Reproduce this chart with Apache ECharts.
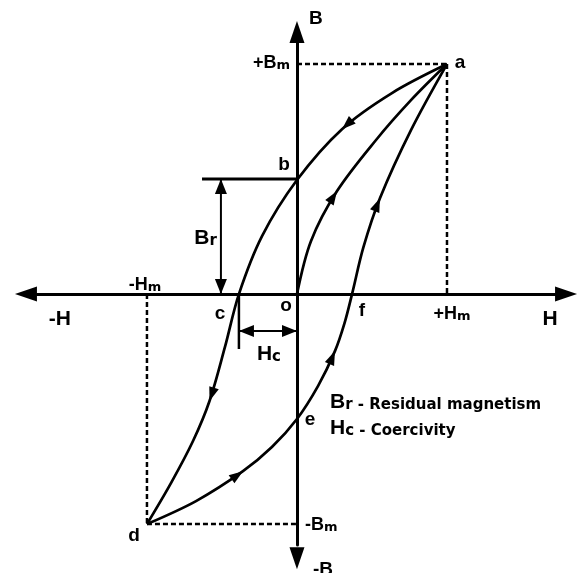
<!DOCTYPE html>
<html lang="en">
<head>
<meta charset="utf-8">
<script src="https://cdn.jsdelivr.net/npm/echarts@6/dist/echarts.min.js"></script>
<style>html,body{margin:0;padding:0;background:#fff;}</style>
</head>
<body>
<div id="main" style="width:579px;height:573px;"></div>
<script>
// hysteresis loop, H in units of Hm, B in units of Bm
var Hm = 1, Bm = 1;
var Br = 0.50;    // residual magnetism (point b)
var Hc = 0.387;   // coercivity (point c)
var Hf = 0.367;   // point f
var Be = -0.543;  // point e

// descending branch a -> b -> c -> d
var downH = [1.0, 0.633, 0.30, 0, -0.233, -0.387, -0.48, -0.583, -0.693, -0.84, -1.0];
var downB = [1.0, 0.874, 0.717, 0.496, 0.252, 0, -0.230, -0.465, -0.639, -0.822, -1.0];
// ascending branch d -> e -> f -> a
var upH = [-1.0, -0.673, -0.36, -0.167, 0, 0.14, 0.253, 0.317, 0.367, 0.443, 0.553, 0.76, 1.0];
var upB = [-1.0, -0.90, -0.770, -0.665, -0.543, -0.40, -0.248, -0.126, 0, 0.204, 0.417, 0.713, 1.0];
// initial magnetisation o -> a
var initH = [0, 0.093, 0.267, 0.527, 0.76, 1.0];
var initB = [0, 0.230, 0.448, 0.670, 0.843, 1.0];

// which points of each branch carry a direction arrow
var downArrows = [2, 7];
var upArrows = [2, 6, 10];
var initArrows = [2];

// axis extents and arrow tips
var hRange = [-1.733, 1.72];
var bRange = [-1.091, 1.096];
var hTip = [-1.88, 1.867];
var bTip = [-1.196, 1.187];

var brLineH = -0.633;
var brArrowH = -0.507;
var hcArrowB = -0.161;
var hcTickB = -0.239;

var RICH = {
  L: {fontFamily: 'Liberation Sans', fontWeight: 'bold', fontSize: 19, color: '#000', fill: '#000', verticalAlign: 'bottom'},
  M: {fontFamily: 'Liberation Sans', fontWeight: 'bold', fontSize: 18, color: '#000', fill: '#000', verticalAlign: 'bottom'},
  S: {fontFamily: 'DejaVu Sans', fontWeight: 'bold', fontSize: 13, color: '#000', fill: '#000', verticalAlign: 'bottom'},
  X: {fontFamily: 'Liberation Sans', fontWeight: 'bold', fontSize: 21, color: '#000', fill: '#000', verticalAlign: 'bottom'},
  Y: {fontFamily: 'DejaVu Sans', fontWeight: 'bold', fontSize: 15, color: '#000', fill: '#000', verticalAlign: 'bottom'},
  P: {fontFamily: 'Liberation Sans', fontWeight: 'bold', fontSize: 19, color: '#000', fill: '#000'}
};

// text, anchor, offset, align
var labels = [
  ['{L|B}', [0, bTip[1]], [19, -2]],
  ['{L|-B}', [0, bTip[0]], [26, 1]],
  ['{X|H}', [hTip[1], 0], [-27, 25]],
  ['{X|-H}', [hTip[0], 0], [45, 25]],
  ['{M|+B}{S|m}', [0, Bm], [-7, -1], 'right'],
  ['{M|-B}{S|m}', [0, -Bm], [8, 1], 'left'],
  ['{M|+H}{S|m}', [Hm, 0], [5, 20]],
  ['{M|-H}{S|m}', [-Hm, 0], [-2, -9]],
  ['{P|a}', [Hm, Bm], [13, -1]],
  ['{P|b}', [0, Br], [-13, -14]],
  ['{P|c}', [-Hc, 0], [-19, 20]],
  ['{P|d}', [-Hm, -Bm], [-13, 12]],
  ['{P|e}', [0, Be], [13, 1]],
  ['{P|f}', [Hf, 0], [10, 17]],
  ['{P|o}', [0, 0], [-11, 12]],
  ['{X|B}{Y|r}', [brArrowH, Br / 2], [-4, 2], 'right'],
  ['{X|H}{Y|c}', [-Hc / 2, hcArrowB], [1, 23]]
];

function zip(h, b) {
  return h.map(function (x, i) { return [x, b[i]]; });
}

function line(data, width, type, smooth) {
  return {
    type: 'line', data: data, smooth: smooth || false, symbol: 'none', silent: true,
    lineStyle: {color: '#000', width: width, type: type || 'solid'}
  };
}

// arrow on a curve: tip at the point, pointing along the branch
function curveArrows(h, b, idx) {
  return idx.map(function (i) {
    var dh = h[i + 1] - h[i - 1], db = b[i + 1] - b[i - 1];
    return [h[i], b[i], h[i] - dh, b[i] - db];
  });
}

function arrowSeries(items, len, wid) {
  return {
    type: 'custom', coordinateSystem: 'cartesian2d', silent: true, clip: false, z: 5,
    data: items,
    renderItem: function (params, api) {
      var tip = api.coord([api.value(0), api.value(1)]);
      var back = api.coord([api.value(2), api.value(3)]);
      var dx = tip[0] - back[0], dy = tip[1] - back[1];
      var d = Math.sqrt(dx * dx + dy * dy) || 1;
      dx /= d; dy /= d;
      var bx = tip[0] - dx * len, by = tip[1] - dy * len;
      var nx = -dy * wid / 2, ny = dx * wid / 2;
      return {
        type: 'polygon',
        shape: {points: [tip, [bx + nx, by + ny], [bx - nx, by - ny]]},
        style: {fill: '#000'}
      };
    }
  };
}

var dash = [5, 3];

var myChart = echarts.init(document.getElementById('main'));
myChart.setOption({
  animation: false,
  backgroundColor: '#fff',
  grid: {left: 37, right: 24, top: 42, bottom: 28, containLabel: false, outerBoundsMode: 'none'},
  xAxis: {
    type: 'value', min: hRange[0], max: hRange[1],
    axisLine: {show: true, onZero: true, lineStyle: {color: '#000', width: 3}},
    axisTick: {show: false}, axisLabel: {show: false}, splitLine: {show: false}
  },
  yAxis: {
    type: 'value', min: bRange[0], max: bRange[1],
    axisLine: {show: true, onZero: true, lineStyle: {color: '#000', width: 3}},
    axisTick: {show: false}, axisLabel: {show: false}, splitLine: {show: false}
  },
  graphic: [
    {type: 'text', x: 330, y: 402, style: {text: '{X|B}{Y|r - Residual magnetism}', rich: RICH, verticalAlign: 'middle', fill: '#000'}},
    {type: 'text', x: 330, y: 428, style: {text: '{X|H}{Y|c - Coercivity}', rich: RICH, verticalAlign: 'middle', fill: '#000'}}
  ],
  series: [
    // dashed guides to a and d
    line([[0, Bm], [Hm, Bm]], 2.5, dash),
    line([[Hm, Bm], [Hm, 0]], 2.5, dash),
    line([[-Hm, 0], [-Hm, -Bm]], 2.5, dash),
    line([[-Hm, -Bm], [0, -Bm]], 2.5, dash),
    // Br and Hc markers
    line([[brLineH, Br], [0, Br]], 3),
    line([[brArrowH, 0], [brArrowH, Br]], 2),
    line([[-Hc, 0], [-Hc, hcTickB]], 2.5),
    line([[-Hc, hcArrowB], [0, hcArrowB]], 2),
    // the loop
    line(zip(downH, downB), 2.7, 'solid', 0.33),
    line(zip(upH, upB), 2.7, 'solid', 0.33),
    line(zip(initH, initB), 2.7, 'solid', 0.33),
    arrowSeries([].concat(
      curveArrows(downH, downB, downArrows),
      curveArrows(upH, upB, upArrows),
      curveArrows(initH, initB, initArrows)
    ), 14, 10),
    arrowSeries([
      [brArrowH, Br, brArrowH, 0], [brArrowH, 0, brArrowH, Br],
      [-Hc, hcArrowB, 0, hcArrowB], [0, hcArrowB, -Hc, hcArrowB]
    ], 15, 12),
    arrowSeries([
      [hTip[1], 0, hRange[1], 0], [hTip[0], 0, hRange[0], 0],
      [0, bTip[1], 0, bRange[1]], [0, bTip[0], 0, bRange[0]]
    ], 22, 15),
    {
      type: 'scatter', clip: false, silent: true, symbolSize: 1,
      itemStyle: {color: 'rgba(0,0,0,0)', opacity: 1},
      label: {
        show: true, position: 'inside', color: '#000', textBorderWidth: 0, rich: RICH,
        formatter: function (p) { return p.data.text; }
      },
      data: labels.map(function (l) {
        return {value: l[1], text: l[0], label: {offset: l[2], align: l[3] || 'center'}};
      })
    }
  ]
});
</script>
</body>
</html>
